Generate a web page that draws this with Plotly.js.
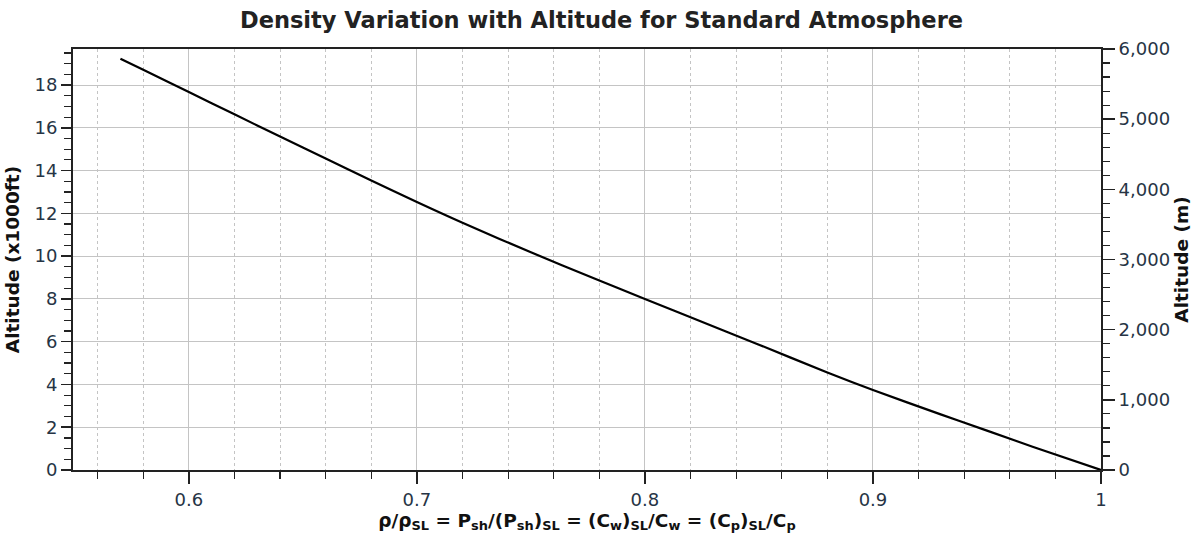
<!DOCTYPE html>
<html>
<head>
<meta charset="utf-8">
<script src="https://cdn.plot.ly/plotly-3.0.1.min.js"></script>
<style>html,body{margin:0;padding:0;background:#fff;}#chart{width:1203px;height:535px;}</style>
</head>
<body>
<div id="chart"></div>
<script>
// Density ratio (x) and altitude in thousands of feet (y)
const densityRatio = [0.570, 0.580, 0.600, 0.620, 0.640, 0.660, 0.680, 0.700, 0.720, 0.750, 0.780, 0.800, 0.820, 0.850, 0.880, 0.900, 0.930, 0.950, 0.970, 1.000];
const altitudeKft  = [19.23, 18.71, 17.67, 16.63, 15.59, 14.56, 13.54, 12.53, 11.56, 10.18, 8.86, 8.00, 7.14, 5.86, 4.56, 3.74, 2.59, 1.84, 1.09, 0.00];
const FT_TO_M = 304.8;
const altitudeM = altitudeKft.map(v => v * FT_TO_M);

const tickColor = '#263445';
const font = 'DejaVu Sans, Verdana, sans-serif';

const traces = [
  {x: densityRatio, y: altitudeKft, type: 'scatter', mode: 'lines',
   line: {color: '#000', width: 2.2, shape: 'spline', smoothing: 0.9},
   showlegend: false, hoverinfo: 'x+y'},
  {x: densityRatio, y: altitudeM, type: 'scatter', mode: 'lines', yaxis: 'y2',
   line: {color: 'rgba(0,0,0,0)', width: 0}, showlegend: false, hoverinfo: 'skip'}
];

const layout = {
  width: 1203, height: 535,
  margin: {l: 73, r: 102, t: 49, b: 65},
  paper_bgcolor: '#fff', plot_bgcolor: '#fff',
  font: {family: font, size: 18, color: tickColor},
  title: {text: '<b>Density Variation with Altitude for Standard Atmosphere</b>',
          x: 0.5, xanchor: 'center', y: 0.962, yanchor: 'middle',
          font: {family: font, size: 22.5, color: '#222'}},
  xaxis: {
    range: [0.5492, 1.0], tick0: 0, dtick: 0.1,
    ticks: 'outside', ticklen: 12, tickwidth: 1.5, tickcolor: '#222',
    showline: true, linecolor: '#222', linewidth: 2, mirror: true,
    showgrid: true, gridcolor: '#c4c4c4', gridwidth: 1,
    zeroline: false,
    minor: {dtick: 0.02, tick0: 0, ticks: 'outside', ticklen: 7, tickwidth: 1.2, tickcolor: '#222',
            showgrid: true, gridcolor: '#c4c4c4', griddash: 'dot', gridwidth: 1},
    tickfont: {family: font, size: 18, color: tickColor},
    title: {text: '<b>ρ/ρ<sub>SL</sub> = P<sub>sh</sub>/(P<sub>sh</sub>)<sub>SL</sub> = (C<sub>w</sub>)<sub>SL</sub>/C<sub>w</sub> = (C<sub>p</sub>)<sub>SL</sub>/C<sub>p</sub></b>',
            font: {family: font, size: 18.5, color: '#111'}, standoff: 2}
  },
  yaxis: {
    range: [0, 6000 / FT_TO_M], tick0: 0, dtick: 2,
    ticks: 'outside', ticklen: 10, tickwidth: 1.5, tickcolor: '#222',
    showline: true, linecolor: '#222', linewidth: 2,
    showgrid: true, gridcolor: '#c4c4c4', gridwidth: 1,
    zeroline: false,
    minor: {dtick: 0.5, tick0: 0, ticks: 'outside', ticklen: 7, tickwidth: 1.2, tickcolor: '#222', showgrid: false},
    tickfont: {family: font, size: 18, color: tickColor},
    title: {text: '<b>Altitude (x1000ft)</b>', font: {family: font, size: 18.5, color: '#111'}, standoff: 10}
  },
  yaxis2: {
    overlaying: 'y', side: 'right', anchor: 'x',
    range: [0, 6000], tick0: 0, dtick: 1000, tickformat: ',d',
    ticks: 'outside', ticklen: 12, tickwidth: 1.5, tickcolor: '#222',
    showline: true, linecolor: '#222', linewidth: 2,
    showgrid: false, zeroline: false,
    minor: {dtick: 200, tick0: 0, ticks: 'outside', ticklen: 7, tickwidth: 1.2, tickcolor: '#222', showgrid: false},
    tickfont: {family: font, size: 18, color: tickColor},
    title: {text: '<b>Altitude (m)</b>', font: {family: font, size: 18.5, color: '#111'}, standoff: 6}
  }
};

Plotly.newPlot('chart', traces, layout, {displayModeBar: false, staticPlot: true});
</script>
</body>
</html>
